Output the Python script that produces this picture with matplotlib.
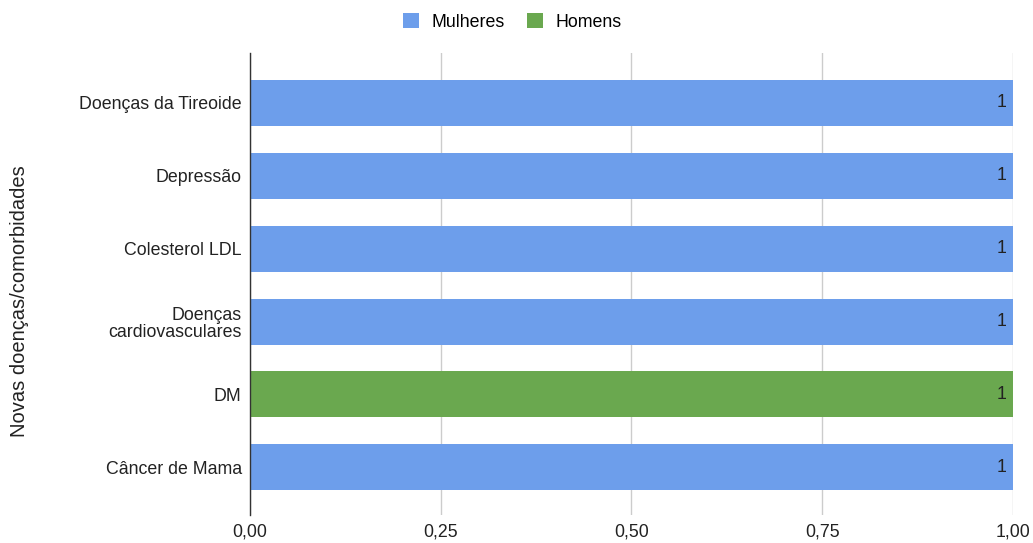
import matplotlib.pyplot as plt
import numpy as np

plt.rcParams["font.family"] = ["Liberation Sans", "DejaVu Sans"]

categories = [
    "Doenças da Tireoide",
    "Depressão",
    "Colesterol LDL",
    "Doenças\ncardiovasculares",
    "DM",
    "Câncer de Mama",
]
mulheres = [1, 1, 1, 1, 0, 1]
homens = [0, 0, 0, 0, 1, 0]
xticks = [0, 0.25, 0.5, 0.75, 1.0]
xtick_labels = ["0,00", "0,25", "0,50", "0,75", "1,00"]

blue = "#6d9eeb"
green = "#6aa84f"
fs = 12.8

fig = plt.figure(figsize=(10.33, 5.43), dpi=100)
ax = fig.add_axes([0.242, 0.052, 0.7386, 0.85])

y = np.arange(len(categories))[::-1]
mul = np.array(mulheres)
hom = np.array(homens)

ax.barh(y, mul, height=0.63, color=blue, label="Mulheres", zorder=2)
ax.barh(y, hom, left=mul, height=0.63, color=green, label="Homens", zorder=2)

for yi, m, h in zip(y, mul, hom):
    total = m + h
    if total > 0:
        ax.text(total - 0.009, yi, f"{total:g}", ha="right", va="center",
                fontsize=fs, color="#222222", zorder=3)

ax.set_xlim(0, 1)
ax.set_ylim(-0.65, len(categories) - 0.32)
ax.set_xticks(xticks)
ax.set_xticklabels(xtick_labels, fontsize=fs, color="#222222")
ax.set_yticks(y)
ax.set_yticklabels(categories, fontsize=fs, color="#222222", linespacing=1.0)
ax.tick_params(axis="y", length=0, pad=6)
ax.tick_params(axis="x", length=0, pad=6)

ax.grid(axis="x", color="#cccccc", linewidth=1, zorder=0)
for s in ["top", "right", "bottom"]:
    ax.spines[s].set_visible(False)
ax.spines["left"].set_color("#333333")
ax.spines["left"].set_linewidth(1)
ax.spines["left"].set_zorder(3)

ax.set_ylabel("Novas doenças/comorbidades", fontsize=14.5, color="#222222")
ax.yaxis.set_label_coords(-0.29, 0.463)

fig.legend(loc="upper center", bbox_to_anchor=(0.496, 1.005), ncol=2, frameon=False,
           fontsize=fs, handlelength=0.9, handleheight=0.9, handletextpad=0.7,
           columnspacing=1.3)

fig.savefig("out.png", dpi=100)
